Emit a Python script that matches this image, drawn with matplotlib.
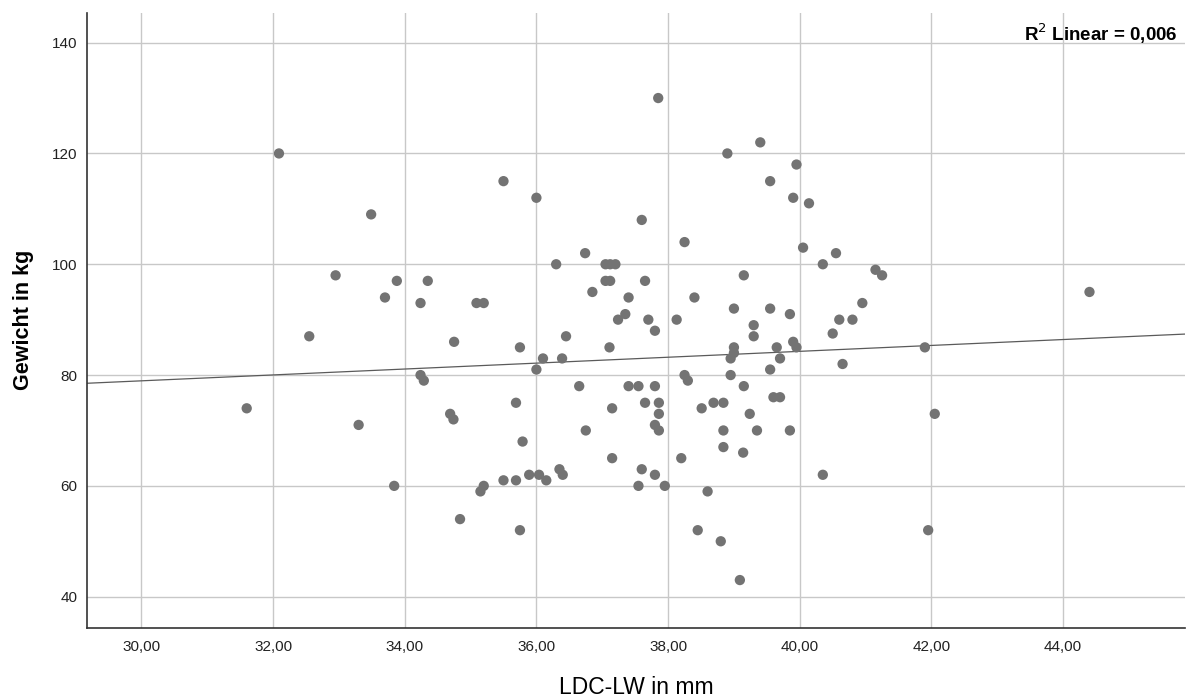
import numpy as np
import matplotlib
matplotlib.use("Agg")
import matplotlib.pyplot as plt
from matplotlib.ticker import FuncFormatter

plt.rcParams["font.family"] = ["Liberation Sans", "DejaVu Sans"]

# LDC-LW (mm) and body weight (kg)
ldc_lw = [
    31.60, 32.09, 32.55, 32.95, 33.30, 33.49, 33.70, 33.84, 33.88, 34.24,
    34.24, 34.29, 34.35, 34.69, 34.74, 34.75, 34.84, 35.09, 35.20, 35.15,
    35.20, 35.50, 35.50, 35.69, 35.69, 35.75, 35.75, 35.79, 35.89, 36.00,
    36.00, 36.04, 36.10, 36.15, 36.30, 36.35, 36.40, 36.39, 36.45, 36.65,
    36.74, 36.75, 36.85, 37.05, 37.12, 37.20, 37.05, 37.12, 37.11, 37.15,
    37.15, 37.24, 37.35, 37.40, 37.40, 37.55, 37.55, 37.60, 37.60, 37.65,
    37.65, 37.70, 37.80, 37.80, 37.80, 37.80, 37.85, 37.86, 37.86, 37.86,
    37.95, 38.13, 38.20, 38.25, 38.25, 38.30, 38.40, 38.45, 38.51, 38.60,
    38.69, 38.80, 38.84, 38.84, 38.84, 38.90, 38.95, 38.95, 39.00, 39.00,
    39.00, 39.09, 39.14, 39.15, 39.15, 39.24, 39.30, 39.30, 39.35, 39.40,
    39.55, 39.55, 39.55, 39.60, 39.65, 39.70, 39.70, 39.85, 39.85, 39.90,
    39.90, 39.95, 39.95, 40.05, 40.14, 40.35, 40.35, 40.50, 40.55, 40.60,
    40.65, 40.80, 40.95, 41.15, 41.25, 41.90, 41.95, 42.05, 44.40,
]
gewicht = [
    74, 120, 87, 98, 71, 109, 94, 60, 97, 93,
    80, 79, 97, 73, 72, 86, 54, 93, 93, 59,
    60, 115, 61, 75, 61, 85, 52, 68, 62, 112,
    81, 62, 83, 61, 100, 63, 62, 83, 87, 78,
    102, 70, 95, 100, 100, 100, 97, 97, 85, 74,
    65, 90, 91, 94, 78, 78, 60, 108, 63, 97,
    75, 90, 88, 78, 71, 62, 130, 75, 73, 70,
    60, 90, 65, 104, 80, 79, 94, 52, 74, 59,
    75, 50, 75, 70, 67, 120, 83, 80, 92, 85,
    84, 43, 66, 98, 78, 73, 89, 87, 70, 122,
    115, 92, 81, 76, 85, 83, 76, 91, 70, 112,
    86, 118, 85, 103, 111, 100, 62, 87.5, 102, 90,
    82, 90, 93, 99, 98, 85, 52, 73, 95,
]
x_ticks = [30, 32, 34, 36, 38, 40, 42, 44]
y_ticks = [40, 60, 80, 100, 120, 140]
r2_text = "R$^2$ Linear = 0,006"

fig = plt.figure(figsize=(11.89, 6.99), dpi=100)
ax = fig.add_axes([0.0732, 0.102, 0.9234, 0.8798])

ax.set_xlim(29.175, 45.85)
ax.set_ylim(34.4, 145.4)

ax.set_xticks(x_ticks)
ax.set_yticks(y_ticks)
ax.xaxis.set_major_formatter(FuncFormatter(lambda v, p: f"{v:.2f}".replace(".", ",")))
ax.grid(True, color="#c8c8c8", linewidth=1.0)
ax.set_axisbelow(True)

ax.scatter(ldc_lw, gewicht, s=55, color="#737373", edgecolors="none", zorder=3)

# linear fit across the whole x range
slope, intercept = np.polyfit(ldc_lw, gewicht, 1)
xs = np.array(ax.get_xlim())
ax.plot(xs, intercept + slope * xs, color="#5a5a5a", linewidth=0.9, zorder=2)

for side in ("top", "right"):
    ax.spines[side].set_visible(False)
for side in ("left", "bottom"):
    ax.spines[side].set_color("#333333")
    ax.spines[side].set_linewidth(1.2)
ax.tick_params(axis="both", length=0, labelsize=11, colors="#222222")
ax.tick_params(axis="y", pad=7)
ax.tick_params(axis="x", pad=9)

ax.set_xlabel("LDC-LW in mm", fontsize=16.5, labelpad=16)
ax.set_ylabel("Gewicht in kg", fontsize=15.5, fontweight="bold", labelpad=13)

ax.text(0.993, 0.985, r2_text, transform=ax.transAxes, ha="right", va="top",
        fontsize=13.5, fontweight="bold")

fig.savefig("out.png", dpi=100)
